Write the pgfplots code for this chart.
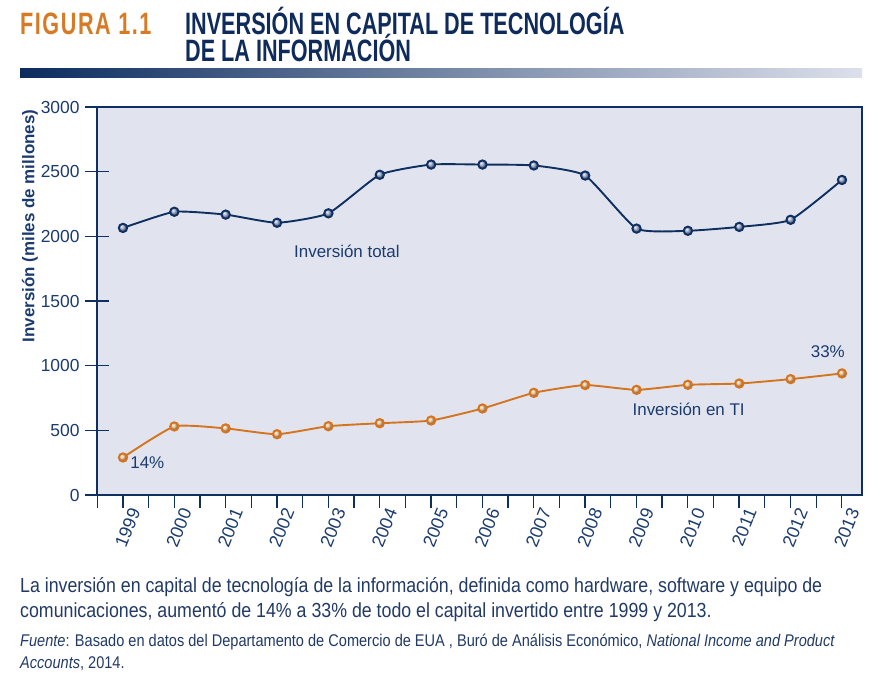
\documentclass[border=0pt]{standalone}
\usepackage{fontspec}
\setmainfont{Liberation Sans}
\newfontfamily\titlefont[FakeStretch=0.70]{Liberation Sans}
\newfontfamily\capfont[FakeStretch=0.87]{Liberation Sans}
\newfontfamily\srcfont[FakeStretch=0.86]{Liberation Sans}
\usepackage{pgfplots}
\pgfplotsset{compat=1.18}
\definecolor{navytxt}{HTML}{1B3B6F}
\definecolor{titlenavy}{HTML}{0F2B5B}
\definecolor{titleorange}{HTML}{D67A26}
\definecolor{plotbg}{HTML}{E1E4EE}
\definecolor{lineblue}{HTML}{0E2F5F}
\definecolor{ballblue}{HTML}{9AA8D0}
\definecolor{lineorange}{HTML}{D4741F}
\definecolor{ballorange}{HTML}{F7C08A}
\definecolor{captxt}{HTML}{223A66}
\definecolor{gradL}{HTML}{0B2C5E}
\definecolor{gradR}{HTML}{DDE0EC}
\begin{document}
\begin{tikzpicture}
\useasboundingbox (0,0) rectangle (886bp,-687bp);
% header
\node[anchor=base west, inner sep=0pt, text=titleorange] at (20bp,-34bp)
  {\titlefont\bfseries\fontsize{31}{31}\selectfont\addfontfeature{LetterSpace=5}FIGURA 1.1};
\node[anchor=base west, inner sep=0pt, text=titlenavy] at (185bp,-34bp)
  {\titlefont\bfseries\fontsize{31}{31}\selectfont INVERSIÓN EN CAPITAL DE TECNOLOGÍA};
\node[anchor=base west, inner sep=0pt, text=titlenavy] at (185bp,-61bp)
  {\titlefont\bfseries\fontsize{31}{31}\selectfont DE LA INFORMACIÓN};
\shade[left color=gradL, right color=gradR] (20bp,-68bp) rectangle (862bp,-77bp);
% y label
\node[rotate=90, inner sep=0pt, text=navytxt, font=\bfseries\fontsize{17}{17}\selectfont] at (30bp,-226bp)
  {Inversión (miles de millones)};
\begin{axis}[
  at={(97bp,-495bp)}, anchor=south west,
  scale only axis, width=765bp, height=388bp,
  xmin=1998.494, xmax=2013.39, ymin=0, ymax=3000,
  axis background/.style={fill=plotbg},
  axis line style={draw=lineblue, line width=1.3bp},
  xtick={1999,2000,...,2013},
  minor xtick={1998.5,1999,...,2013},
  ytick={0,500,...,3000},
  xtick pos=bottom, ytick pos=left,
  tick align=center,
  major tick length=24bp, minor tick length=13bp,
  tick style={draw=lineblue, line width=1.3bp},
  major x tick style={draw=none},
  minor x tick style={yshift=-6.5bp},
  /pgf/number format/assume math mode=true,
  /pgf/number format/1000 sep={},
  x tick label style={rotate=68, anchor=east, text=navytxt, font=\fontsize{18}{18}\selectfont, yshift=-12bp, xshift=6bp},
  y tick label style={text=navytxt, font=\fontsize{17.5}{17.5}\selectfont, xshift=-2bp},
  clip=false,
]
\addplot[draw=lineblue, line width=1.9bp, smooth, tension=0.3, mark=ball, mark size=4.2bp,
  mark options={ball color=ballblue, draw=none}] coordinates {
(1999,2065) (2000,2190) (2001,2168) (2002,2105) (2003,2178) (2004,2476) (2005,2555)
(2006,2555) (2007,2548) (2008,2470) (2009,2060) (2010,2043) (2011,2073) (2012,2128) (2013,2436)};
\addplot[draw=lineorange, line width=1.9bp, smooth, tension=0.3, mark=ball, mark size=4.2bp,
  mark options={ball color=ballorange, draw=none}] coordinates {
(1999,290) (2000,530) (2001,515) (2002,470) (2003,532) (2004,555) (2005,576)
(2006,669) (2007,790) (2008,850) (2009,813) (2010,852) (2011,862) (2012,896) (2013,940)};
\node[anchor=west, inner sep=0pt, text=navytxt, font=\fontsize{17}{17}\selectfont] at (axis cs:2002.33,1887) {Inversión total};
\node[anchor=west, inner sep=0pt, text=navytxt, font=\fontsize{17}{17}\selectfont] at (axis cs:2008.92,664) {Inversión en TI};
\node[anchor=west, inner sep=0pt, text=navytxt, font=\fontsize{17}{17}\selectfont] at (axis cs:1999.14,253) {14\%};
\node[anchor=west, inner sep=0pt, text=navytxt, font=\fontsize{17}{17}\selectfont] at (axis cs:2012.39,1105) {33\%};
\end{axis}
% caption
\node[anchor=base west, inner sep=0pt, text=captxt, font=\capfont\fontsize{20.5}{20.5}\selectfont] at (20bp,-592bp)
  {La inversión en capital de tecnología de la información, definida como hardware, software y equipo de};
\node[anchor=base west, inner sep=0pt, text=captxt, font=\capfont\fontsize{20.5}{20.5}\selectfont] at (20bp,-617bp)
  {comunicaciones, aumentó de 14\% a 33\% de todo el capital invertido entre 1999 y 2013.};
\node[anchor=base west, inner sep=0pt, text=captxt, font=\srcfont\fontsize{17}{17}\selectfont] at (20bp,-646bp)
  {\textit{Fuente}: Basado en datos del Departamento de Comercio de EUA , Buró de Análisis Económico, \textit{National Income and Product}};
\node[anchor=base west, inner sep=0pt, text=captxt, font=\srcfont\fontsize{17}{17}\selectfont] at (20bp,-668bp)
  {\textit{Accounts}, 2014.};
\end{tikzpicture}
\end{document}
